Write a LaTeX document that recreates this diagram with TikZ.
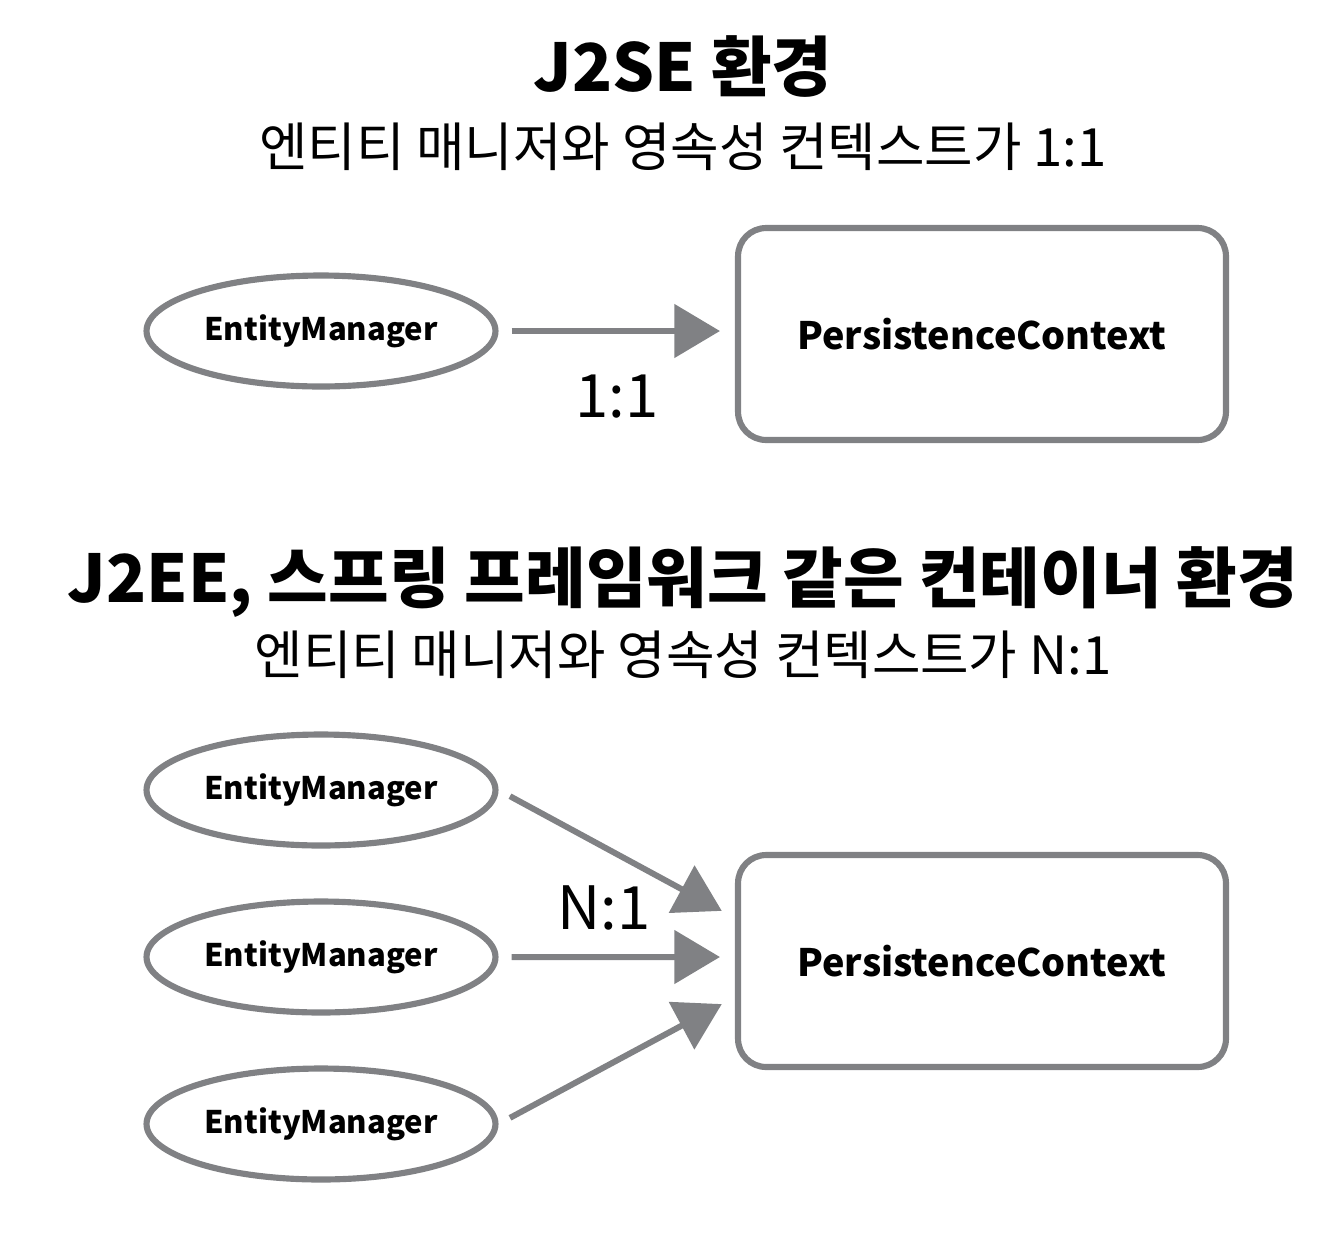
\documentclass[tikz,border=0pt]{standalone}
\usepackage{fontspec}
\setmainfont{Noto Sans CJK KR}
\usetikzlibrary{arrows.meta,shapes.geometric}
\definecolor{sketch}{HTML}{808184}
\tikzset{
  manager/.style={ellipse,draw=sketch,line width=3.5pt,minimum width=6.98cm,minimum height=2.22cm,
    font=\fontsize{17.7}{21}\selectfont\bfseries},
  context/.style={rectangle,rounded corners=16pt,draw=sketch,line width=3.5pt,minimum width=9.76cm,
    minimum height=4.24cm,font=\fontsize{21.5}{26}\selectfont\bfseries},
  link/.style={draw=sketch,line width=3.4pt,-{Triangle[length=26pt,width=30pt]},
    shorten <=0.26cm,shorten >=0.3cm},
  heading/.style={font=\fontsize{37.5}{44}\selectfont\bfseries},
  subheading/.style={font=\fontsize{30}{36}\selectfont},
  ratio/.style={font=\fontsize{34}{40}\selectfont}
}

\begin{document}
\begin{tikzpicture}[x=0.02cm,y=-0.02cm]
  \useasboundingbox (0,0) rectangle (1342,1258);

  % J2SE
  \node[heading] (title1) at (683,67) {J2SE 환경};
  \node[subheading] (sub1) at (683,147) {엔티티 매니저와 영속성 컨텍스트가 1:1};
  \node[manager] (em) at (321,331) {EntityManager};
  \node[context] (pc1) at (982,334) {PersistenceContext};
  \draw[link] (em.east) -- (em.east -| pc1.west);
  \node[ratio] (r1) at (617,397) {1:1};

  % container
  \node[heading] (title2) at (683,582) {J2EE, 스프링 프레임워크 같은 컨테이너 환경};
  \node[subheading] (sub2) at (683,655) {엔티티 매니저와 영속성 컨텍스트가 N:1};
  \foreach \i/\y in {1/790,2/957,3/1124}
    \node[manager] (em\i) at (321,\y) {EntityManager};
  \node[context] (pc2) at (982,961) {PersistenceContext};
  \foreach \i/\s in {1/0.86cm,2/0.08cm,3/-0.72cm}
    \draw[link] (em\i.east) -- ([yshift=\s]pc2.west);
  \node[ratio] (r2) at (604,908) {N:1};
\end{tikzpicture}
\end{document}
